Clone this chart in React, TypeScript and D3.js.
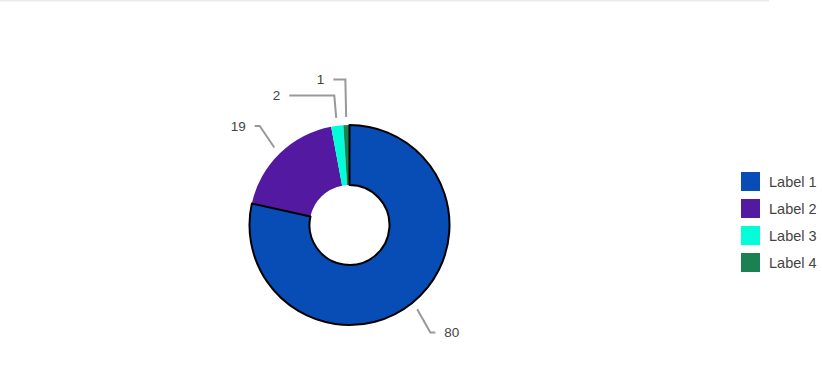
import React from "react";
import * as d3 from "d3";

const labels = ["Label 1", "Label 2", "Label 3", "Label 4"];
const values = [80, 19, 2, 1];
const colors = ["#084db5", "#5319a1", "#00ffd8", "#1b8152"];

const W = 822;
const H = 387;
const cx = 349.5;
const cy = 225;
const outerR = 100;
const innerR = 40;
const FONT = "'Liberation Sans', Arial, sans-serif";

type Datum = { label: string; value: number; color: string; i: number };

export default function App() {
  const data: Datum[] = labels.map((l, i) => ({ label: l, value: values[i], color: colors[i], i }));
  const pie = d3.pie<Datum>().sort(null).value((d) => d.value).startAngle(0).endAngle(2 * Math.PI);
  const arcs = pie(data);
  const arcGen = d3.arc<d3.PieArcDatum<Datum>>().innerRadius(innerR).outerRadius(outerR);

  const polar = (r: number, a: number) => [cx + r * Math.sin(a), cy - r * Math.cos(a)];

  // label layout
  const layout = arcs.map((a) => {
    const mid = (a.startAngle + a.endAngle) / 2;
    const p1 = polar(outerR + 8, mid);
    const p2 = polar(outerR + 38, mid);
    return { a, mid, p1, y: p2[1], right: Math.sin(mid) >= 0 };
  });
  // resolve collisions on left side: stack small slices
  const left = layout.filter((l) => !l.right).sort((p, q) => q.y - p.y);
  const gap = 16;
  for (let k = 1; k < left.length; k++) {
    if (left[k - 1].y - left[k].y < gap) {
      const mean = (left[k - 1].y + left[k].y) / 2;
      left[k - 1].y = mean + gap / 2;
      left[k].y = mean - gap / 2;
    }
  }
  const tails = [5, 5, 45, 12];
  const steep = 0.7;

  const legendX = 741;
  const legendY = 172;
  const legendStep = 27;
  const sq = 19;

  return (
    <svg width={W} height={H} style={{ position: "absolute", left: 0, top: 0 }} fontFamily={FONT}>
      <rect x={0} y={0} width={769} height={1.5} fill="#ebebeb" />
      <g transform={`translate(${cx},${cy})`}>
        {arcs.map((a) => (
          <path key={a.data.label} d={arcGen(a) || ""} fill={a.data.color} />
        ))}
        <path d={arcGen(arcs[0]) || ""} fill="none" stroke="#000" strokeWidth={2} strokeLinejoin="round" />
      </g>
      <g>
        {layout.map((l) => {
          const i = l.a.data.i;
          const slope = Math.sin(l.mid) / -Math.cos(l.mid); // dx per dy along the ray
          const ex = l.p1[0] + steep * slope * (l.y - l.p1[1]);
          const ey = l.y;
          const dir = l.right ? 1 : -1;
          const endX = ex + dir * tails[i];
          const textX = endX + dir * 9;
          return (
            <g key={l.a.data.label}>
              <polyline
                points={`${l.p1[0]},${l.p1[1]} ${ex},${ey} ${endX},${ey}`}
                fill="none"
                stroke="#999999"
                strokeWidth={2}
              />
              <text
                x={textX}
                y={ey}
                dy="0.35em"
                fontSize={13.5}
                fill="#444444"
                textAnchor={l.right ? "start" : "end"}
              >
                {l.a.data.value}
              </text>
            </g>
          );
        })}
      </g>
      <g>
        {data.map((d, i) => (
          <g key={d.label} transform={`translate(${legendX},${legendY + i * legendStep})`}>
            <rect x={0} y={0} width={sq} height={sq} fill={d.color} />
            <text x={28} y={sq / 2} dy="0.35em" fontSize={14.5} fill="#444444">
              {d.label}
            </text>
          </g>
        ))}
      </g>
    </svg>
  );
}
